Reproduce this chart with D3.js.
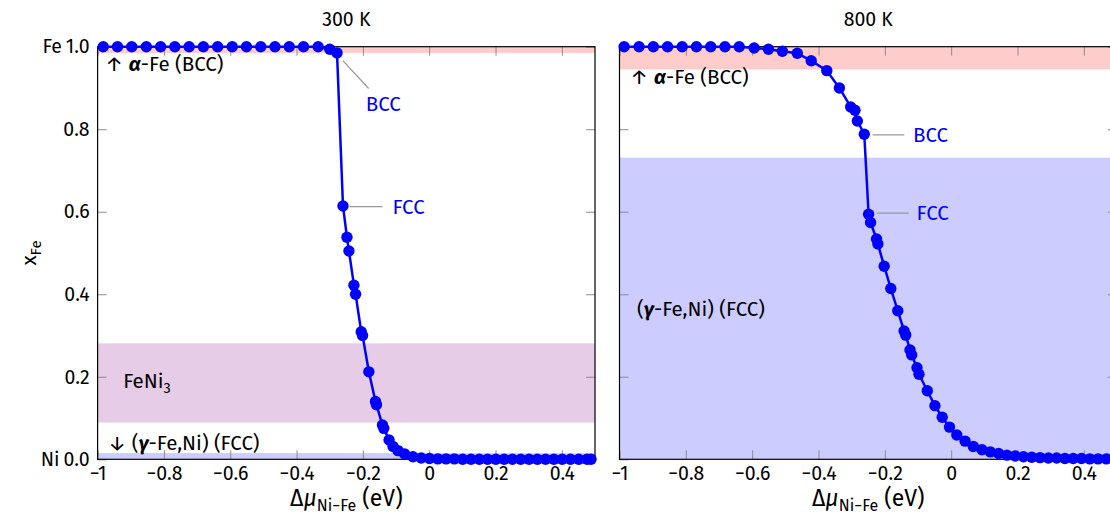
<!DOCTYPE html>
<html><head><meta charset="utf-8">
<script src="https://cdn.jsdelivr.net/npm/d3@7"></script>
<style>
body{margin:0;background:#fff;overflow:hidden}
text{font-family:"Fira Sans","Noto Sans","Open Sans",sans-serif}
</style>
</head><body>
<svg id="c" width="1110" height="519"></svg>
<script>
// ---------- data ----------
const xTicks = [-1, -0.8, -0.6, -0.4, -0.2, 0, 0.2, 0.4];
const yTicks = [0, 0.2, 0.4, 0.6, 0.8, 1.0];
const titles = ["300 K", "800 K"];

const mu300 = [-0.983, -0.940, -0.897, -0.853, -0.810, -0.767, -0.724, -0.681, -0.638, -0.594,
  -0.551, -0.508, -0.465, -0.422, -0.379, -0.335, -0.300, -0.278,
  -0.260, -0.248, -0.242, -0.227, -0.222, -0.205, -0.201, -0.182, -0.162, -0.159,
  -0.141, -0.137, -0.121, -0.109, -0.094, -0.074, -0.049, -0.024,
  0.001, 0.026, 0.051, 0.076, 0.101, 0.126, 0.151, 0.176, 0.201, 0.226,
  0.251, 0.276, 0.301, 0.326, 0.351, 0.376, 0.401, 0.426, 0.451, 0.476, 0.488];
const xFe300 = [1, 1, 1, 1, 1, 1, 1, 1, 1, 1,
  1, 1, 1, 1, 1, 1, 0.994, 0.985,
  0.614, 0.538, 0.505, 0.422, 0.400, 0.309, 0.300, 0.212, 0.140, 0.132,
  0.083, 0.075, 0.047, 0.031, 0.021, 0.013, 0.006, 0.003,
  0.002, 0.001, 0.001, 0.001, 0, 0, 0, 0, 0, 0,
  0, 0, 0, 0, 0, 0, 0, 0, 0, 0, 0];

const mu800 = [-0.986, -0.941, -0.898, -0.855, -0.811, -0.768, -0.725, -0.682, -0.639,
  -0.594, -0.551, -0.509, -0.464, -0.422, -0.375, -0.337, -0.303, -0.290, -0.283, -0.262,
  -0.249, -0.243, -0.225, -0.221, -0.202, -0.182, -0.161, -0.142, -0.137, -0.124, -0.119,
  -0.103, -0.097, -0.072, -0.049, -0.027, -0.005, 0.017, 0.042, 0.067, 0.093,
  0.118, 0.143, 0.168, 0.193, 0.218, 0.243, 0.268, 0.293, 0.318, 0.343, 0.368, 0.393,
  0.418, 0.443, 0.468, 0.493];
const xFe800 = [1, 1, 1, 1, 1, 1, 1, 1, 1,
  0.997, 0.994, 0.989, 0.984, 0.966, 0.942, 0.900, 0.854, 0.846, 0.820, 0.788,
  0.594, 0.574, 0.534, 0.522, 0.468, 0.414, 0.360, 0.311, 0.301, 0.265, 0.253,
  0.222, 0.206, 0.166, 0.130, 0.102, 0.078, 0.059, 0.044, 0.031, 0.023,
  0.018, 0.014, 0.010, 0.008, 0.006, 0.005, 0.004, 0.003, 0.003, 0.002, 0.002, 0.002,
  0.001, 0.001, 0.001, 0.001];

// phase bands: [low, high] in x_Fe, with phase key
const bandLo300 = [0.985, 0.089, 0];
const bandHi300 = [1.0, 0.281, 0.015];
const bandKey300 = ["bcc", "feni3", "fcc"];
const bandLo800 = [0.945, 0];
const bandHi800 = [1.0, 0.731];
const bandKey800 = ["bcc", "fcc"];

// ---------- styling / layout ----------
const bandColor = {bcc: "rgb(255,204,204)", feni3: "rgb(230,204,230)", fcc: "rgb(204,204,255)"};
const svg = d3.select("#c");
svg.append("rect").attr("width", 1110).attr("height", 519).attr("fill", "#fff");
const FS = 19.5, FN = 20.5;
const yTop = 46.7, yBot = 459.3;
const y = d3.scaleLinear().domain([0, 1]).range([yBot, yTop]);
const fmtX = v => (v === -1 || v === 0 ? d3.format("d")(v) : d3.format(".1f")(v)).replace("-", "\u2212");

const panels = [
  {x0: 97.6, x1: 595, mu: mu300, xfe: xFe300, lo: bandLo300, hi: bandHi300, key: bandKey300,
   yLabels: true,
   notes: [
     {mu: -0.978, v: 0.941, parts: [["\u2191 ", ""], ["\u03b1", "i"], ["-Fe (BCC)", ""]]},
     {mu: -0.923, v: 0.172, parts: [["FeNi", ""], ["3", "sub"]]},
     {mu: -0.969, v: 0.0225, parts: [["\u2193 (", ""], ["\u03b3", "i"], ["-Fe,Ni) (FCC)", ""]]}
   ],
   pins: [
     {i: 17, label: "BCC", a: [6, 8], b: [31.7, 35.6], t: [28.7, 51.3]},
     {i: 18, label: "FCC", a: [6.7, 0.7], b: [39.4, 0.7], t: [49.4, 0.7]}
   ]},
  {x0: 619.5, x1: 1117, mu: mu800, xfe: xFe800, lo: bandLo800, hi: bandHi800, key: bandKey800,
   yLabels: false,
   notes: [
     {mu: -0.968, v: 0.909, parts: [["\u2191 ", ""], ["\u03b1", "i"], ["-Fe (BCC)", ""]]},
     {mu: -0.947, v: 0.347, parts: [["(", ""], ["\u03b3", "i"], ["-Fe,Ni) (FCC)", ""]]}
   ],
   pins: [
     {i: 19, label: "BCC", a: [8.4, 0.7], b: [40, 0.7], t: [48.7, 0.7]},
     {i: 20, label: "FCC", a: [8.3, -1], b: [40, -1], t: [48, -1]}
   ]}
];

panels.forEach((p, pi) => {
  const x = d3.scaleLinear().domain([-1, 0.5]).range([p.x0, p.x1]);
  const g = svg.append("g");

  // bands
  g.selectAll("rect.band").data(p.lo.map((lo, k) => ({lo, hi: p.hi[k], key: p.key[k]})))
    .join("rect").attr("class", "band")
    .attr("x", p.x0).attr("width", p.x1 - p.x0)
    .attr("y", d => y(d.hi)).attr("height", d => y(d.lo) - y(d.hi))
    .attr("fill", d => bandColor[d.key]);

  // ticks (inside, grey)
  const tl = 9;
  const styleAx = sel => {
    sel.select(".domain").remove();
    sel.selectAll(".tick line").attr("stroke", "#8c8c8c").attr("stroke-width", 1);
    sel.selectAll(".tick text").attr("font-size", FS).attr("fill", "#000")
      .attr("font-family", '"Fira Sans","Noto Sans","Open Sans",sans-serif');
  };
  g.append("g").attr("transform", `translate(0,${yBot})`)
    .call(d3.axisBottom(x).tickValues(xTicks).tickSizeInner(-tl).tickSizeOuter(0).tickPadding(7).tickFormat(fmtX))
    .call(styleAx);
  g.append("g").attr("transform", `translate(0,${yTop})`)
    .call(d3.axisTop(x).tickValues(xTicks).tickSizeInner(-tl).tickSizeOuter(0).tickFormat(""))
    .call(styleAx);
  g.append("g").attr("transform", `translate(${p.x0},0)`)
    .call(d3.axisLeft(y).tickValues(yTicks).tickSizeInner(-tl).tickSizeOuter(0).tickPadding(8)
      .tickFormat(p.yLabels ? (v => (v === 1 ? "Fe\u2009" : v === 0 ? "Ni\u2009" : "") + d3.format(".1f")(v)) : ""))
    .call(styleAx);
  g.append("g").attr("transform", `translate(${p.x1},0)`)
    .call(d3.axisRight(y).tickValues(yTicks).tickSizeInner(-tl).tickSizeOuter(0).tickFormat(""))
    .call(styleAx);

  // frame
  g.append("rect").attr("x", p.x0).attr("y", yTop).attr("width", p.x1 - p.x0).attr("height", yBot - yTop)
    .attr("fill", "none").attr("stroke", "#000").attr("stroke-width", 1.2);

  // title
  g.append("text").attr("x", (p.x0 + p.x1) / 2).attr("y", 26).attr("text-anchor", "middle")
    .attr("font-size", FS).text(titles[pi]);

  // x label
  const xl = g.append("text").attr("x", (p.x0 + p.x1) / 2).attr("y", 506).attr("text-anchor", "middle")
    .attr("font-size", 23);
  xl.append("tspan").text("\u0394");
  xl.append("tspan").attr("font-style", "italic").text("\u03bc");
  xl.append("tspan").attr("font-size", 16).attr("dy", 5).text("Ni\u2212Fe");
  xl.append("tspan").attr("dy", -5).text(" (eV)");

  // band notes
  p.notes.forEach(n => {
    const t = g.append("text").attr("x", x(n.mu)).attr("y", y(n.v)).attr("font-size", FN);
    n.parts.forEach(([s, st]) => {
      const ts = t.append("tspan").text(s);
      if (st === "i") ts.attr("font-style", "italic").attr("font-weight", "bold");
      if (st === "sub") ts.attr("font-size", 14.5).attr("dy", 5);
    });
  });

  // data
  const pts = p.mu.map((m, k) => [m, p.xfe[k]]);
  const line = d3.line().x(d => x(d[0])).y(d => y(d[1]));
  g.append("path").datum(pts).attr("d", line).attr("fill", "none")
    .attr("stroke", "#0000ff").attr("stroke-width", 2.5).attr("stroke-linejoin", "round");
  g.selectAll("circle").data(pts).join("circle")
    .attr("cx", d => x(d[0])).attr("cy", d => y(d[1])).attr("r", 5.7).attr("fill", "#0000ff");

  // pins
  p.pins.forEach(pn => {
    const px = x(p.mu[pn.i]), py = y(p.xfe[pn.i]);
    g.append("line").attr("x1", px + pn.a[0]).attr("y1", py + pn.a[1])
      .attr("x2", px + pn.b[0]).attr("y2", py + pn.b[1])
      .attr("stroke", "#999").attr("stroke-width", 1.2);
    g.append("text").attr("x", px + pn.t[0]).attr("y", py + pn.t[1]).attr("dy", "0.35em")
      .attr("font-size", FN).attr("fill", "#0000ff").text(pn.label);
  });
});

// y label
const yl = svg.append("text").attr("transform", `translate(36,${(yTop + yBot) / 2}) rotate(-90)`)
  .attr("text-anchor", "middle").attr("font-size", 21);
yl.append("tspan").text("x");
yl.append("tspan").attr("font-size", 15).attr("dy", 5).text("Fe");
</script>
</body></html>
